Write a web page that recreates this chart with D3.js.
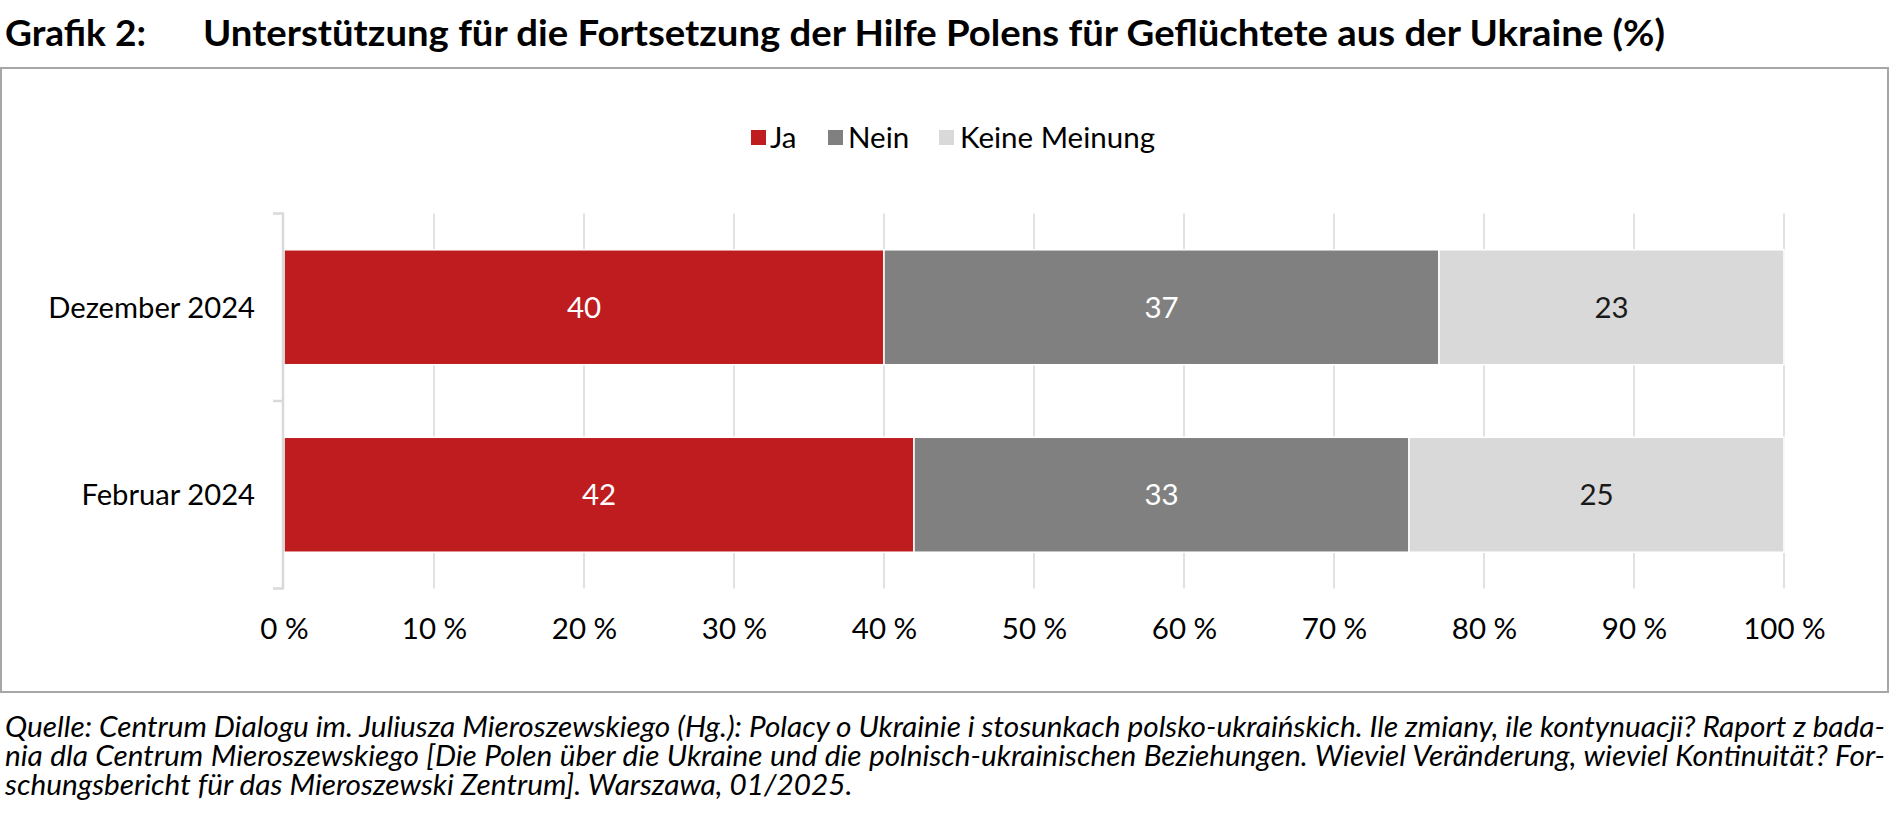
<!DOCTYPE html>
<html><head><meta charset="utf-8">
<script src="https://cdn.jsdelivr.net/npm/d3@7"></script>
<style>
body{margin:0;background:#fff}
svg{display:block}
text{font-family:Lato,"Noto Sans",sans-serif}
</style>
</head><body>
<svg id="c" width="1890" height="821"></svg>
<script>
const categories = ["Dezember 2024", "Februar 2024"];
const seriesNames = ["Ja", "Nein", "Keine Meinung"];
const jaValues = [40, 42];
const neinValues = [37, 33];
const keineValues = [23, 25];
const xTickValues = [0, 10, 20, 30, 40, 50, 60, 70, 80, 90, 100];
const xTickLabels = ["0 %", "10 %", "20 %", "30 %", "40 %", "50 %", "60 %", "70 %", "80 %", "90 %", "100 %"];
const titleLabel = "Grafik 2:";
const titleText = "Unterstützung für die Fortsetzung der Hilfe Polens für Geflüchtete aus der Ukraine (%)";
const sourceLines = [
  "Quelle: Centrum Dialogu im. Juliusza Mieroszewskiego (Hg.): Polacy o Ukrainie i stosunkach polsko-ukraińskich. Ile zmiany, ile kontynuacji? Raport z bada-",
  "nia dla Centrum Mieroszewskiego [Die Polen über die Ukraine und die polnisch-ukrainischen Beziehungen. Wieviel Veränderung, wieviel Kontinuität? For-",
  "schungsbericht für das Mieroszewski Zentrum]. Warszawa, 01/2025."
];

const colors = ["#BE1C1F", "#808080", "#D9D9D9"];
const labelColors = ["#ffffff", "#ffffff", "#1a1a1a"];

const rows = categories.map((c, i) => ({cat: c, "Ja": jaValues[i], "Nein": neinValues[i], "Keine Meinung": keineValues[i]}));
const stacked = d3.stack().keys(seriesNames)(rows);

const svg = d3.select("#c");

// Frame
svg.append("rect").attr("x", 1).attr("y", 68).attr("width", 1887).attr("height", 624)
  .attr("fill", "none").attr("stroke", "#a6a6a6").attr("stroke-width", 2);

// Title
const t1 = svg.append("text").attr("x", 5).attr("y", 46).attr("font-weight", 700)
  .attr("font-size", 36).attr("fill", "#000").text(titleLabel);
t1.attr("textLength", 141).attr("lengthAdjust", "spacingAndGlyphs");
const t2 = svg.append("text").attr("x", 203).attr("y", 46).attr("font-weight", 700)
  .attr("font-size", 36).attr("fill", "#000").text(titleText);
t2.attr("textLength", 1462).attr("lengthAdjust", "spacingAndGlyphs");

// Scales
const x = d3.scaleLinear().domain([0, 100]).range([284, 1784]);
const y = d3.scaleBand().domain(categories).range([213.5, 588.5]).paddingInner(0.387).paddingOuter(0.1935);

// Gridlines
svg.append("g").selectAll("line").data(xTickValues.slice(1)).join("line")
  .attr("x1", d => x(d)).attr("x2", d => x(d)).attr("y1", 213.5).attr("y2", 588.5)
  .attr("stroke", "#d9d9d9").attr("stroke-width", 1.5);

// Bars
const g = svg.append("g");
stacked.forEach((s, si) => {
  g.selectAll(null).data(s).join("rect")
    .attr("x", d => x(d[0])).attr("width", d => x(d[1]) - x(d[0]))
    .attr("y", d => y(d.data.cat)).attr("height", y.bandwidth())
    .attr("fill", colors[si]).attr("stroke", "#fff").attr("stroke-width", 1.5);
  g.selectAll(null).data(s).join("text")
    .attr("x", d => (x(d[0]) + x(d[1])) / 2).attr("y", d => y(d.data.cat) + y.bandwidth() / 2)
    .attr("dy", "0.36em").attr("text-anchor", "middle").attr("font-size", 29.5)
    .attr("fill", labelColors[si]).text(d => d[1] - d[0]);
});

// Y axis
const yAxisG = svg.append("g");
yAxisG.append("line").attr("x1", 283).attr("x2", 283).attr("y1", 213.5).attr("y2", 588.5)
  .attr("stroke", "#d9d9d9").attr("stroke-width", 2.5);
const yTickPos = [213.5, (213.5 + 588.5) / 2, 588.5];
yAxisG.selectAll(".yt").data(yTickPos).join("line")
  .attr("x1", 273).attr("x2", 284).attr("y1", d => d).attr("y2", d => d)
  .attr("stroke", "#d9d9d9").attr("stroke-width", 2.5);
yAxisG.selectAll(".yl").data(categories).join("text")
  .attr("x", 255).attr("y", d => y(d) + y.bandwidth() / 2).attr("dy", "0.36em")
  .attr("text-anchor", "end").attr("font-size", 29.2).attr("fill", "#000").text(d => d);

// X axis labels
const xAxis = d3.axisBottom(x).tickValues(xTickValues).tickFormat((d, i) => xTickLabels[i]).tickSize(0).tickPadding(0);
const xg = svg.append("g").attr("transform", "translate(0,618)").call(xAxis);
xg.select(".domain").remove();
xg.selectAll("text").attr("font-size", 29.5).attr("fill", "#000").attr("font-family", "Lato");

// Legend
const legendItems = [
  {name: seriesNames[0], c: colors[0], sq: 751, tx: 770},
  {name: seriesNames[1], c: colors[1], sq: 828, tx: 848},
  {name: seriesNames[2], c: colors[2], sq: 939, tx: 960}
];
const lg = svg.append("g");
legendItems.forEach(it => {
  lg.append("rect").attr("x", it.sq).attr("y", 130).attr("width", 15).attr("height", 15).attr("fill", it.c);
  lg.append("text").attr("x", it.tx).attr("y", 137.5).attr("dy", "0.36em").attr("font-size", 29.5)
    .attr("fill", "#000").text(it.name);
});

// Source
const sg = svg.append("g").attr("font-style", "italic").attr("font-size", 29.5).attr("fill", "#000");
const lineYs = [737, 766, 795];
const targets = [1880, 1880, null];
const nodes = sourceLines.map((l, i) => sg.append("text").attr("x", 0).attr("y", lineYs[i]).text(l));
const nat3 = nodes[2].node().getComputedTextLength();
const sx = 848 / nat3;
sg.attr("transform", `translate(5,0) scale(${sx},1)`);
nodes.forEach((n, i) => {
  if (targets[i]) {
    const nat = n.node().getComputedTextLength();
    const spaces = (sourceLines[i].match(/ /g) || []).length;
    const ws = (targets[i] / sx - nat) / spaces;
    n.attr("word-spacing", ws);
  }
});
</script>
</body></html>
